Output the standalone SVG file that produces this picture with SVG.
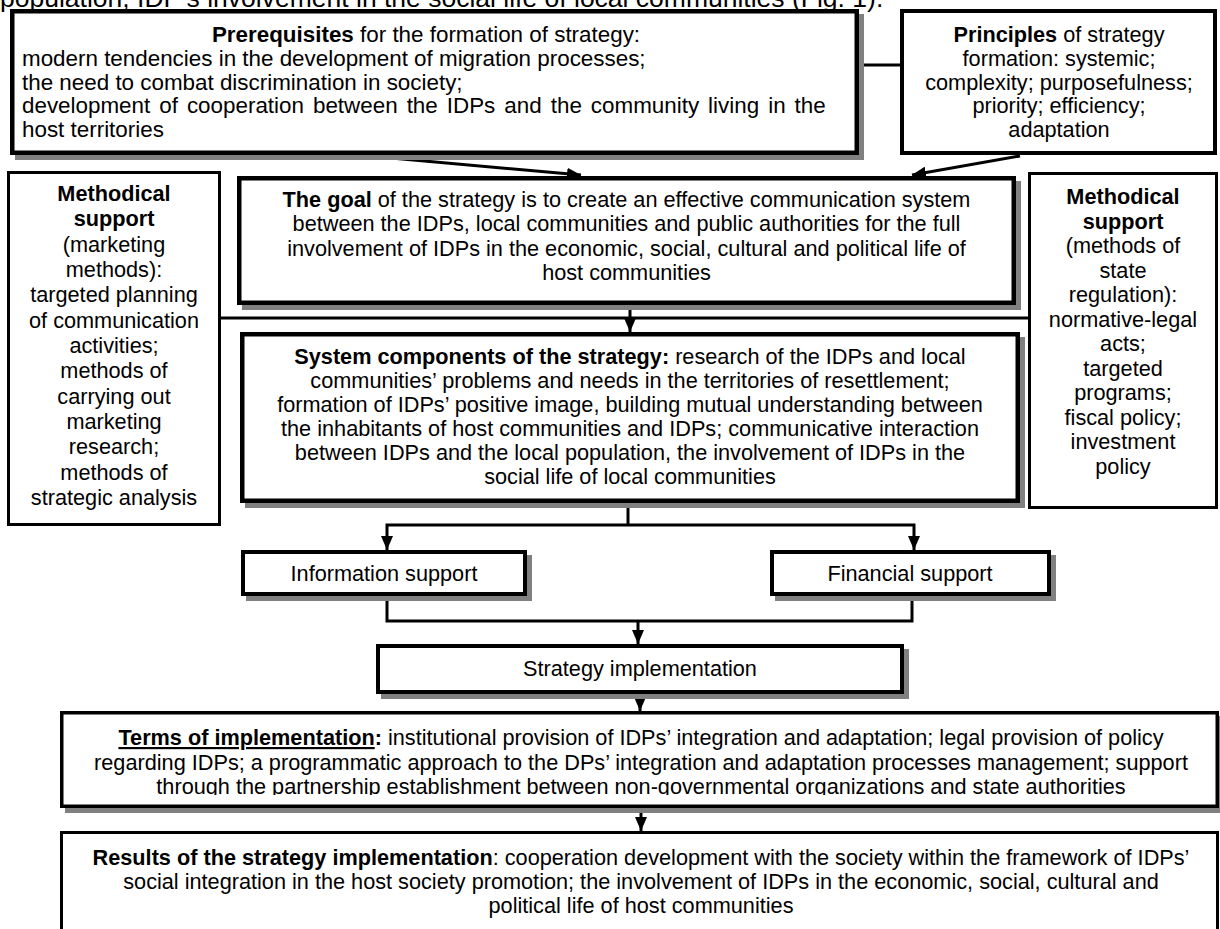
<svg xmlns="http://www.w3.org/2000/svg" width="1220" height="929" viewBox="0 0 1220 929">
<defs>
<marker id="ah" markerUnits="userSpaceOnUse" markerWidth="14" markerHeight="12" refX="14" refY="6" orient="auto"><path d="M0,0 L14,6 L0,12 z" fill="#000"/></marker>
<clipPath id="clipTerms"><rect x="60" y="711" width="1160" height="84"/></clipPath>
</defs>
<style>
text { font-family: "Liberation Sans", Arial, sans-serif; font-size: 21.7px; fill: #000; }
.c { text-anchor: middle; }
.b { font-weight: bold; }
.p { font-size: 22.4px; }
.box { fill: #fff; stroke: #000; }
.sh { fill: #808080; stroke: none; }
.ln { fill: none; stroke: #000; stroke-width: 3; }
</style>
<rect x="0" y="0" width="1220" height="929" fill="#fff"/>
<text x="0" y="7" style="font-size:26.5px">population, IDP’s involvement in the social life of local communities (Fig. 1).</text>

<g id="connectors">
<path class="ln" d="M859,65 H900"/>
<path class="ln" d="M391,158 L581,175" marker-end="url(#ah)"/>
<path class="ln" d="M1020,156 L912,175" marker-end="url(#ah)"/>
<path class="ln" d="M221,318 H1028"/>
<path class="ln" d="M630,305 V332" marker-end="url(#ah)"/>
<path class="ln" d="M628,503 V525"/>
<path class="ln" d="M628,525 H387 V550" marker-end="url(#ah)"/>
<path class="ln" d="M628,525 H914 V550" marker-end="url(#ah)"/>
<path class="ln" d="M387,596 V621 H912 V596"/>
<path class="ln" d="M638,621 V644" marker-end="url(#ah)"/>
<path class="ln" d="M640,694 V711" marker-end="url(#ah)"/>
<path class="ln" d="M641,808 V831" marker-end="url(#ah)"/>
</g>

<g id="prerequisites">
<rect class="sh" x="15" y="14" width="849" height="146"/>
<rect class="box" x="12.25" y="11.25" width="844.5" height="141.5" stroke-width="4.5"/>
<text x="426" y="42" class="c p"><tspan class="b">Prerequisites</tspan> for the formation of strategy:</text>
<text x="22" y="66" class="p">modern tendencies in the development of migration processes;</text>
<text x="22" y="89.5" class="p">the need to combat discrimination in society;</text>
<text x="22" y="113" class="p" style="word-spacing:2.8px">development of cooperation between the IDPs and the community living in the</text>
<text x="22" y="137" class="p">host territories</text>
</g>

<g id="principles">
<rect class="box" x="902" y="11" width="313" height="142" stroke-width="4"/>
<text class="c" x="1059" y="42"><tspan class="b">Principles</tspan> of strategy</text>
<text class="c" x="1059" y="66">formation: systemic;</text>
<text class="c" x="1059" y="89.5">complexity; purposefulness;</text>
<text class="c" x="1059" y="113">priority; efficiency;</text>
<text class="c" x="1059" y="137">adaptation</text>
</g>

<g id="methodical-left">
<rect class="box" x="8.5" y="172.5" width="211" height="352" stroke-width="3"/>
<text class="c b" x="114" y="201">Methodical</text>
<text class="c b" x="114" y="226.3">support</text>
<text class="c" x="114" y="251.7">(marketing</text>
<text class="c" x="114" y="277">methods):</text>
<text class="c" x="114" y="302.3">targeted planning</text>
<text class="c" x="114" y="327.7">of communication</text>
<text class="c" x="114" y="353">activities;</text>
<text class="c" x="114" y="378.3">methods of</text>
<text class="c" x="114" y="403.7">carrying out</text>
<text class="c" x="114" y="429">marketing</text>
<text class="c" x="114" y="454.3">research;</text>
<text class="c" x="114" y="479.7">methods of</text>
<text class="c" x="114" y="505">strategic analysis</text>
</g>

<g id="goal">
<rect class="sh" x="242" y="181" width="779" height="129"/>
<rect class="box" x="239.25" y="178.25" width="774.5" height="124.5" stroke-width="4.5"/>
<text class="c" x="626.5" y="207"><tspan class="b">The goal</tspan> of the strategy is to create an effective communication system</text>
<text class="c" x="626.5" y="231.3">between the IDPs, local communities and public authorities for the full</text>
<text class="c" x="626.5" y="255.7">involvement of IDPs in the economic, social, cultural and political life of</text>
<text class="c" x="626.5" y="280">host communities</text>
</g>

<g id="system-components">
<rect class="sh" x="245" y="337" width="780" height="171"/>
<rect class="box" x="242.25" y="334.25" width="775.5" height="166.5" stroke-width="4.5"/>
<text class="c" x="630" y="364"><tspan class="b">System components of the strategy:</tspan> research of the IDPs and local</text>
<text class="c" x="630" y="388">communities’ problems and needs in the territories of resettlement;</text>
<text class="c" x="630" y="412">formation of IDPs’ positive image, building mutual understanding between</text>
<text class="c" x="630" y="436">the inhabitants of host communities and IDPs; communicative interaction</text>
<text class="c" x="630" y="460">between IDPs and the local population, the involvement of IDPs in the</text>
<text class="c" x="630" y="484">social life of local communities</text>
</g>

<g id="methodical-right">
<rect class="box" x="1029.5" y="173.5" width="187" height="334" stroke-width="3"/>
<text class="c b" x="1123" y="204">Methodical</text>
<text class="c b" x="1123" y="228.5">support</text>
<text class="c" x="1123" y="253">(methods of</text>
<text class="c" x="1123" y="277.5">state</text>
<text class="c" x="1123" y="302">regulation):</text>
<text class="c" x="1123" y="326.5">normative-legal</text>
<text class="c" x="1123" y="351">acts;</text>
<text class="c" x="1123" y="375.5">targeted</text>
<text class="c" x="1123" y="400">programs;</text>
<text class="c" x="1123" y="424.5">fiscal policy;</text>
<text class="c" x="1123" y="449">investment</text>
<text class="c" x="1123" y="473.5">policy</text>
</g>

<g id="information-support">
<rect class="sh" x="246" y="555" width="286" height="46"/>
<rect class="box" x="243" y="552" width="282" height="42" stroke-width="4"/>
<text class="c" x="384" y="581">Information support</text>
</g>

<g id="financial-support">
<rect class="sh" x="775" y="555" width="281" height="46"/>
<rect class="box" x="772" y="552" width="277" height="42" stroke-width="4"/>
<text class="c" x="910" y="581">Financial support</text>
</g>

<g id="strategy-implementation">
<rect class="sh" x="381" y="649" width="528" height="50"/>
<rect class="box" x="378" y="646" width="524" height="46" stroke-width="4"/>
<text class="c" x="640" y="676">Strategy implementation</text>
</g>

<g id="terms">
<rect class="sh" x="65" y="716" width="1159" height="97"/>
<rect class="box" x="61.75" y="712.75" width="1155.5" height="93.5" stroke-width="3.5"/>
<g clip-path="url(#clipTerms)">
<text class="c" x="641" y="745"><tspan class="b" text-decoration="underline">Terms of implementation</tspan><tspan class="b">:</tspan> institutional provision of IDPs’ integration and adaptation; legal provision of policy</text>
<text class="c" x="641" y="769.5">regarding IDPs; a programmatic approach to the DPs’ integration and adaptation processes management; support</text>
<text class="c" x="641" y="794">through the partnership establishment between non-governmental organizations and state authorities</text>
</g>
</g>

<g id="results">
<rect class="box" x="61.5" y="832.5" width="1156" height="120" stroke-width="3"/>
<text class="c" x="641" y="865"><tspan class="b">Results of the strategy implementation</tspan>: cooperation development with the society within the framework of IDPs’</text>
<text class="c" x="641" y="889">social integration in the host society promotion; the involvement of IDPs in the economic, social, cultural and</text>
<text class="c" x="641" y="913">political life of host communities</text>
</g>
</svg>
